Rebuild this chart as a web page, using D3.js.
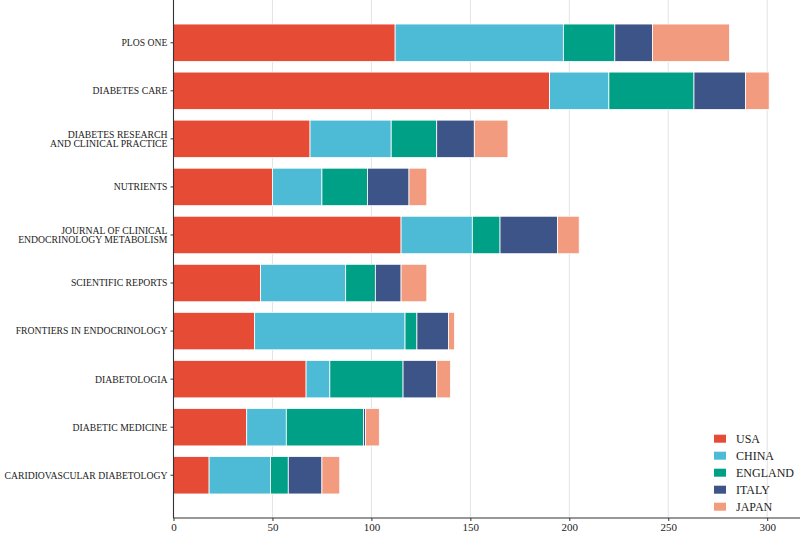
<!DOCTYPE html>
<html>
<head>
<meta charset="utf-8">
<script src="https://cdn.jsdelivr.net/npm/d3@7"></script>
<style>
  html, body { margin: 0; padding: 0; background: #fff; }
  svg { display: block; }
</style>
</head>
<body>
<svg id="chart" width="800" height="534"></svg>
<script>
const journals = [
  "PLOS ONE",
  "DIABETES CARE",
  "DIABETES RESEARCH\nAND CLINICAL PRACTICE",
  "NUTRIENTS",
  "JOURNAL OF CLINICAL\nENDOCRINOLOGY METABOLISM",
  "SCIENTIFIC REPORTS",
  "FRONTIERS IN ENDOCRINOLOGY",
  "DIABETOLOGIA",
  "DIABETIC MEDICINE",
  "CARIDIOVASCULAR DIABETOLOGY"
];
const countries = ["USA", "CHINA", "ENGLAND", "ITALY", "JAPAN"];
const usa     = [112, 190, 69, 50, 115, 44, 41, 67, 37, 18];
const china   = [85, 30, 41, 25, 36, 43, 76, 12, 20, 31];
const england = [26, 43, 23, 23, 14, 15, 6, 37, 39, 9];
const italy   = [19, 26, 19, 21, 29, 13, 16, 17, 1, 17];
const japan   = [39, 12, 17, 9, 11, 13, 3, 7, 7, 9];
const xTicks = [0, 50, 100, 150, 200, 250, 300];
const colors = ["#E64B35", "#4DBBD5", "#00A087", "#3C5488", "#F39B7F"];

const seriesVals = [usa, china, england, italy, japan];
const rows = journals.map((j, i) => {
  const r = { journal: j };
  countries.forEach((c, k) => r[c] = seriesVals[k][i]);
  return r;
});
const stacked = d3.stack().keys(countries)(rows);

const svg = d3.select("#chart");
const mLeft = 173.5, mBottom = 518, mTop = 0;
const serif = "'Liberation Serif', 'Times New Roman', serif";
const x = d3.scaleLinear().domain([0, 316]).range([mLeft, mLeft + 316 * 1.979]);
const y = d3.scaleBand().domain(journals).range([mTop, mBottom]).paddingInner(0.22).paddingOuter(0.5);
const color = d3.scaleOrdinal().domain(countries).range(colors);

// grid
svg.append("g").selectAll("line").data(xTicks.filter(d => d > 0)).join("line")
  .attr("x1", d => x(d)).attr("x2", d => x(d))
  .attr("y1", mTop).attr("y2", mBottom)
  .attr("stroke", "#e3e3e3").attr("stroke-width", 1);

// bars
svg.append("g").selectAll("g").data(stacked).join("g")
  .attr("fill", d => color(d.key))
  .selectAll("rect").data(d => d).join("rect")
  .attr("x", d => x(d[0]))
  .attr("width", d => x(d[1]) - x(d[0]))
  .attr("y", d => y(d.data.journal))
  .attr("height", y.bandwidth())
  .attr("stroke", "#ffffff").attr("stroke-width", 0.8);

// x axis
const xAxis = svg.append("g").attr("transform", `translate(0,${mBottom})`)
  .call(d3.axisBottom(x).tickValues(xTicks).tickSize(3).tickSizeOuter(0));
xAxis.attr("font-family", null);
xAxis.select(".domain").attr("stroke", "#333").attr("stroke-width", 1.1)
  .attr("d", `M${x(0)},0H800`);
xAxis.selectAll(".tick line").attr("stroke", "#333");
xAxis.selectAll(".tick text").attr("fill", "#222")
  .style("font-family", serif)
  .style("font-size", "11px").attr("dy", "0.95em").attr("y", 3);

// y axis
const yAxis = svg.append("g").attr("transform", `translate(${x(0)},0)`)
  .call(d3.axisLeft(y).tickSize(3).tickSizeOuter(0).tickFormat(""));
yAxis.select(".domain").attr("stroke", "#333").attr("stroke-width", 1.1)
  .attr("d", `M0,${mTop}V${mBottom}`);
yAxis.selectAll(".tick line").attr("stroke", "#333");

// y labels (multi-line)
const lab = svg.append("g");
journals.forEach(j => {
  const lines = j.split("\n");
  const cy = y(j) + y.bandwidth() / 2;
  const lh = 9.2;
  const t = lab.append("text").attr("text-anchor", "end").attr("x", x(0) - 6)
    .style("font-family", serif).style("font-size", "9.7px").attr("fill", "#222");
  lines.forEach((ln, i) => {
    t.append("tspan").attr("x", x(0) - 6)
      .attr("y", cy + (i - (lines.length - 1) / 2) * lh)
      .attr("dy", "0.35em").text(ln);
  });
});

// legend
const lg = svg.append("g").attr("transform", "translate(714,438.7)");
countries.forEach((c, i) => {
  const g = lg.append("g").attr("transform", `translate(0,${i * 17})`);
  g.append("rect").attr("x", 0).attr("y", -4).attr("width", 12).attr("height", 8).attr("fill", color(c));
  g.append("text").attr("x", 22).attr("y", 0).attr("dy", "0.35em")
    .style("font-family", serif)
    .style("font-size", "12px").attr("fill", "#222").text(c);
});
</script>
</body>
</html>
